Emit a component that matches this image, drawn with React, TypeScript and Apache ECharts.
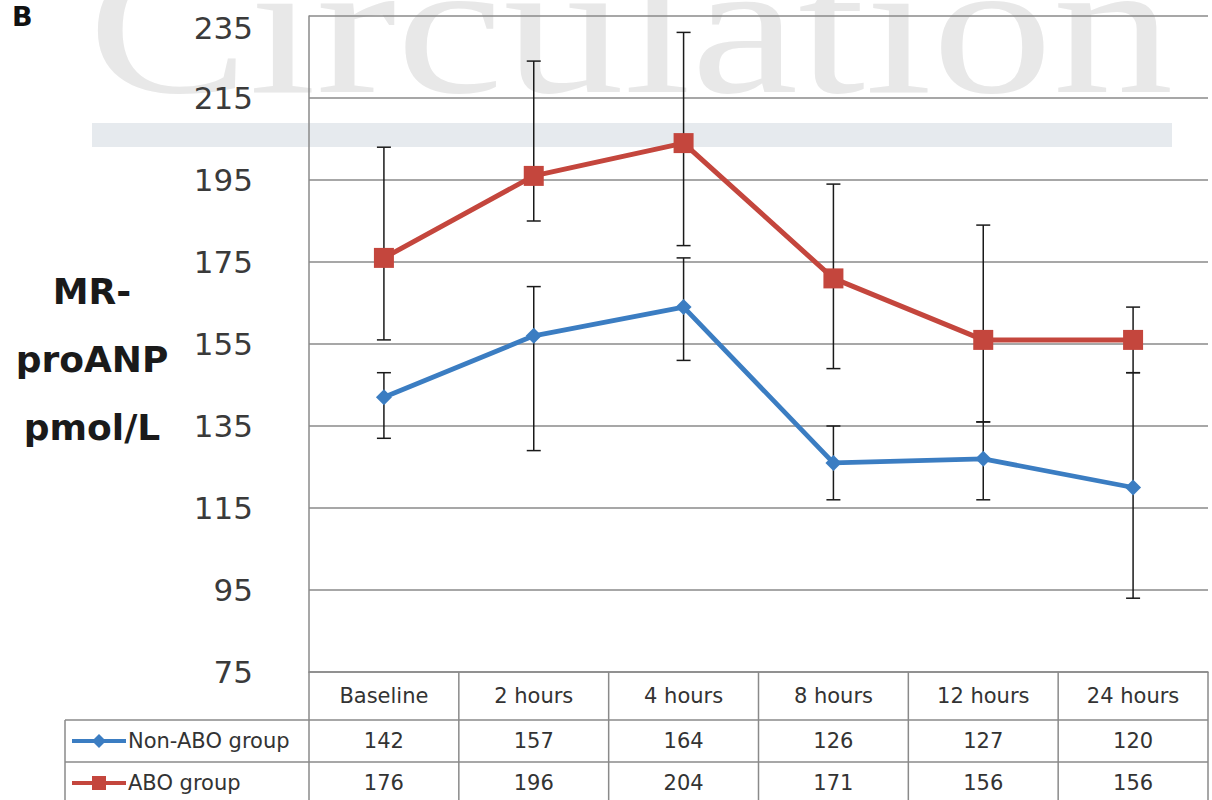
import React, { useEffect, useRef } from "react";
import * as echarts from "echarts";

// ---- data ----
const categories = ["Baseline", "2 hours", "4 hours", "8 hours", "12 hours", "24 hours"];
const seriesNames = ["Non-ABO group", "ABO group"];
const nonAboValues = [142, 157, 164, 126, 127, 120];
const aboValues = [176, 196, 204, 171, 156, 156];
const nonAboLow = [132, 129, 151, 117, 117, 93];
const nonAboHigh = [148, 169, 176, 135, 136, 148];
const aboLow = [156, 185, 179, 149, 136, 148];
const aboHigh = [203, 224, 231, 194, 184, 164];
const yMin = 75;
const yMax = 235;
const yInterval = 20;
const yAxisTitle = "MR-\nproANP\npmol/L";
const panelLabel = "B";
const watermarkText = "Circulation";

// ---- style ----
const BLUE = "#3b7dc2";
const RED = "#c4463d";
const GRID_GRAY = "#8a8a8a";
const TEXT = "#333333";
const SANS = "DejaVu Sans";

export default function App() {
  const ref = useRef<HTMLDivElement>(null);

  useEffect(() => {
    if (!ref.current) return;
    const chart = echarts.init(ref.current, undefined, { renderer: "svg" });

    const errSeries = (low: number[], high: number[], name: string) => ({
      type: "custom",
      name: name + " range",
      z: 1,
      data: categories.map((_, i) => [i, low[i], high[i]]),
      encode: { x: 0, y: [1, 2] },
      renderItem: (params: any, api: any) => {
        const lo = api.coord([api.value(0), api.value(1)]);
        const hi = api.coord([api.value(0), api.value(2)]);
        const hw = 7;
        const st = { stroke: "#1a1a1a", lineWidth: 1.5 };
        return {
          type: "group",
          children: [
            { type: "line", shape: { x1: lo[0], y1: lo[1], x2: hi[0], y2: hi[1] }, style: st },
            { type: "line", shape: { x1: lo[0] - hw, y1: lo[1], x2: lo[0] + hw, y2: lo[1] }, style: st },
            { type: "line", shape: { x1: hi[0] - hw, y1: hi[1], x2: hi[0] + hw, y2: hi[1] }, style: st },
          ],
        };
      },
    });

    chart.setOption({
      animation: false,
      backgroundColor: "#ffffff",
      grid: { left: 309, right: 4, top: 16, bottom: 128, containLabel: false },
      xAxis: {
        type: "category",
        data: categories,
        boundaryGap: true,
        axisLine: { show: true, lineStyle: { color: GRID_GRAY, width: 1.5 } },
        axisTick: { show: false },
        axisLabel: { color: TEXT, fontSize: 21, fontFamily: SANS, margin: 13 },
        splitLine: { show: false },
      },
      yAxis: {
        type: "value",
        min: yMin,
        max: yMax,
        interval: yInterval,
        axisLine: { show: true, lineStyle: { color: GRID_GRAY, width: 1.5 } },
        axisTick: { show: false },
        axisLabel: {
          color: "#3a3a3a",
          fontSize: 31,
          fontFamily: SANS,
          margin: 56,
          formatter: (v: number) => (v === yMax ? `{top|${v}}` : `{n|${v}}`),
          rich: {
            top: { fontSize: 31, fontFamily: SANS, color: "#3a3a3a", padding: [24, 0, 0, 0] },
            n: { fontSize: 31, fontFamily: SANS, color: "#3a3a3a" },
          },
        },
        splitLine: { show: true, lineStyle: { color: GRID_GRAY, width: 1.5 } },
      },
      series: [
        errSeries(nonAboLow, nonAboHigh, seriesNames[0]),
        errSeries(aboLow, aboHigh, seriesNames[1]),
        {
          type: "line",
          name: seriesNames[0],
          data: nonAboValues,
          z: 3,
          symbol: "diamond",
          symbolSize: 16,
          lineStyle: { color: BLUE, width: 4.8 },
          itemStyle: { color: BLUE },
        },
        {
          type: "line",
          name: seriesNames[1],
          data: aboValues,
          z: 4,
          symbol: "rect",
          symbolSize: 20,
          lineStyle: { color: RED, width: 5 },
          itemStyle: { color: RED },
        },
      ],
    });

    // ---- table & decorations positioned from the chart's own scales ----
    const cx = categories.map((_, i) => chart.convertToPixel({ xAxisIndex: 0 }, i) as number);
    const bw = cx.length > 1 ? cx[1] - cx[0] : 150;
    const left = cx[0] - bw / 2;
    const right = cx[cx.length - 1] + bw / 2;
    const y0 = chart.convertToPixel({ yAxisIndex: 0 }, yMin) as number;
    const headerBottom = y0 + 48;
    const row1Bottom = headerBottom + 42;
    const tableBottom = 805;
    const legendLeft = 65;
    const lineSt = { stroke: GRID_GRAY, lineWidth: 1.5 };

    const g: any[] = [];
    // watermark
    g.push({
      type: "rect",
      z: -100,
      silent: true,
      shape: { x: 92, y: 123, width: 1080, height: 24 },
      style: { fill: "#e6eaee" },
    });
    g.push({
      type: "text",
      z: -100,
      silent: true,
      x: 88,
      y: 27,
      scaleX: 1.25,
      style: {
        text: watermarkText,
        fontFamily: "Liberation Serif",
        fontSize: 193,
        fill: "#e8e8e8",
        align: "left",
        verticalAlign: "middle",
      },
    });
    // panel label
    g.push({
      type: "text",
      x: 12,
      y: 16,
      style: { text: panelLabel, fontFamily: SANS, fontWeight: "bold", fontSize: 27, fill: "#111", align: "left", verticalAlign: "middle" },
    });
    // y axis title
    g.push({
      type: "text",
      x: 92,
      y: 359,
      style: {
        text: yAxisTitle,
        fontFamily: SANS,
        fontWeight: "bold",
        fontSize: 36,
        lineHeight: 68,
        fill: "#1a1a1a",
        align: "center",
        verticalAlign: "middle",
      },
    });
    // table lines
    const boundaries = [left, ...cx.map((c) => c + bw / 2)];
    boundaries.forEach((bx) => {
      g.push({ type: "line", shape: { x1: bx, y1: y0, x2: bx, y2: tableBottom }, style: lineSt });
    });
    g.push({ type: "line", shape: { x1: legendLeft, y1: headerBottom, x2: legendLeft, y2: tableBottom }, style: lineSt });
    g.push({ type: "line", shape: { x1: legendLeft, y1: headerBottom, x2: right, y2: headerBottom }, style: lineSt });
    g.push({ type: "line", shape: { x1: legendLeft, y1: row1Bottom, x2: right, y2: row1Bottom }, style: lineSt });

    const rows = [
      { name: seriesNames[0], values: nonAboValues, color: BLUE, symbol: "diamond", yc: (headerBottom + row1Bottom) / 2 },
      { name: seriesNames[1], values: aboValues, color: RED, symbol: "rect", yc: row1Bottom + 21 },
    ];
    rows.forEach((r) => {
      // legend key
      g.push({ type: "line", shape: { x1: 72, y1: r.yc, x2: 126, y2: r.yc }, style: { stroke: r.color, lineWidth: 4 } });
      if (r.symbol === "diamond") {
        g.push({
          type: "polygon",
          shape: { points: [[99, r.yc - 7], [106, r.yc], [99, r.yc + 7], [92, r.yc]] },
          style: { fill: r.color },
        });
      } else {
        g.push({ type: "rect", shape: { x: 92, y: r.yc - 7, width: 14, height: 14 }, style: { fill: r.color } });
      }
      g.push({
        type: "text",
        x: 128,
        y: r.yc,
        style: { text: r.name, fontFamily: SANS, fontSize: 21, fill: TEXT, align: "left", verticalAlign: "middle" },
      });
      r.values.forEach((v, i) => {
        g.push({
          type: "text",
          x: cx[i],
          y: r.yc,
          style: { text: String(v), fontFamily: SANS, fontSize: 21, fill: TEXT, align: "center", verticalAlign: "middle" },
        });
      });
    });

    chart.setOption({ graphic: { elements: g } });

    return () => chart.dispose();
  }, []);

  return (
    <div
      ref={ref}
      style={{ position: "fixed", left: 0, top: 0, width: 1212, height: 800, background: "#fff" }}
    />
  );
}
